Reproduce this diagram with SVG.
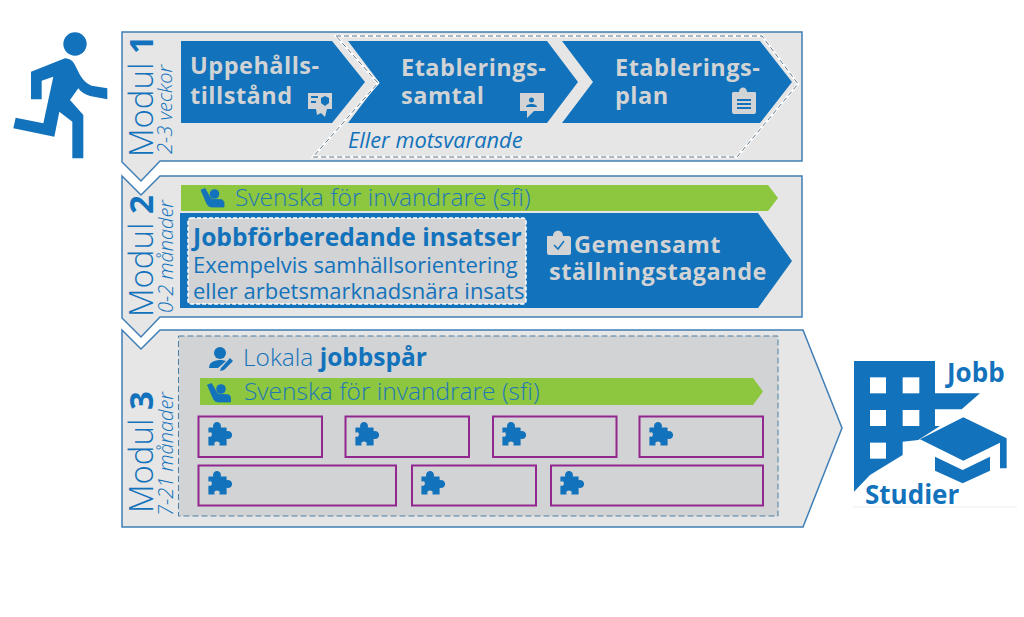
<svg xmlns="http://www.w3.org/2000/svg" width="1024" height="617" viewBox="0 0 1024 617">
<style>
text{font-family:"Open Sans","Noto Sans","Liberation Sans",sans-serif;fill:#1272BB}
.panel{fill:#E6E6E6;stroke:#3F7FB5;stroke-width:1.500}
.blue{fill:#1272BB}
.green{fill:#8DC63F}
.grey{fill:#D1D3D4}
.lt{fill:#D1D3D4;font-weight:700;font-size:23.500px;letter-spacing:.5px}
.mod{font-size:33px;font-weight:300}
.mod tspan{font-weight:700}
.sub{font-size:20px;font-style:italic;font-weight:300}
.sfi{font-size:24.500px;font-weight:300;fill:#1F78B8}
.p{fill:none;stroke:#92278F;stroke-width:2}
</style>
<defs>
<symbol id="puzzle" viewBox="0 0 24 24" overflow="visible"><path stroke="#1272BB" stroke-width="1.200" stroke-linejoin="round" d="M1 6H6C5 3 6.500 .5 9 .5C11.500 .5 13 3 12 6H18V10C21 9 23.500 10 23.500 13C23.500 16 21 17 18 16V23H12C13 20.500 11.500 19 9 19C6.500 19 5 20.500 6 23H1V15C3 16 4.500 14.500 4.500 12.500C4.500 10 3 9 1 10Z"/></symbol>
<symbol id="seat" viewBox="0 0 24 20" overflow="visible"><circle cx="14" cy="6" r="4.800"/><path stroke="#1272BB" stroke-width=".8" d="M.5 2L4.500 .5L10 10Q11.500 11.500 14 11.500H19Q23.500 11.500 23.500 15V19H11Q8 19 6.500 16Z"/></symbol>
</defs>

<g id="runner" class="blue" transform="translate(0 20) scale(.3333)">
<circle cx="225" cy="72" r="35"/>
<path d="M93 155L195 115Q215 115 225 135L240 165Q255 190 275 197L322 205V238L270 228Q245 220 235 205L210 240L250 285V415H217V305L178 275L163 350L40 325L47 293L130 310L160 170L125 182V238H93Z"/>
</g>

<g id="modul-1">
<path class="panel" d="M122 32H802V161H160L141 181L122 162Z"/>
<path class="blue" d="M181 41H332L365 82L332 123H181Z"/>
<path class="blue" d="M348 41H547L578 82L547 123H348L379 82Z"/>
<path class="blue" d="M562 41H760L792 82L760 123H562L593 82Z"/>
<path d="M336 36H762L798 84L737 157H313L378 83Z" fill="none" stroke="#fff" stroke-width="2.500"/>
<path d="M336 36H762L798 84L737 157H313L378 83Z" fill="none" stroke="#5D7385" stroke-width="1" stroke-dasharray="5 3"/>
<text class="mod" transform="translate(153 157) rotate(-90)">Modul <tspan>1</tspan></text>
<text class="sub" transform="translate(172 154) rotate(-90)">2-3 veckor</text>
<text class="lt" x="190" y="74">Uppehålls-</text>
<text class="lt" x="190" y="104">tillstånd</text>
<text class="lt" x="401" y="76">Etablerings-</text>
<text class="lt" x="401" y="104">samtal</text>
<text class="lt" x="615" y="76">Etablerings-</text>
<text class="lt" x="615" y="104">plan</text>
<text x="348" y="148" font-size="21.800" font-style="italic" fill="#1F6FAE">Eller motsvarande</text>
<g class="grey">
<path d="M308 93H332V109H327L325 117L321 113L317 115L316 109H308ZM311 96V98H318V96ZM311 101V103H316V101ZM325 96L321 98V103L325 106L329 103V98Z"/>
<path d="M520 93H544V111H534L527 118V111H520Z"/>
<path d="M733 92H739C739 86 747 86 747 92H755C756 92 756 93 756 94V112C756 113 755 114 754 114H734C733 114 732 113 732 112V93Z"/>
</g>
<g class="blue"><circle cx="531.500" cy="100" r="2.500"/><path d="M526 107C526 103 537 103 537 107Z"/>
<path d="M737 99H751V101H737ZM737 103H751V105H737ZM737 107H751V109H737Z"/></g>
</g>

<g id="modul-2">
<path class="panel" d="M122 176L141 195L160 176H802V317H160L141 337L122 318Z"/>
<path class="green" d="M181 185H768L778 198L768 211H181Z"/>
<path class="blue" d="M180 213H758L792 261L758 308H180Z"/>
<rect x="188" y="218" width="338" height="86" rx="3" fill="#D1D3D4" stroke="#fff" stroke-width="1.500" stroke-dasharray="4 2"/>
<text class="mod" transform="translate(153 317) rotate(-90)">Modul <tspan>2</tspan></text>
<text class="sub" transform="translate(173 313) rotate(-90)">0-2 månader</text>
<use href="#seat" x="200.500" y="188" width="24" height="20" class="blue"/>
<text class="sfi" x="235" y="206">Svenska för invandrare (sfi)</text>
<text x="193" y="246" font-size="24.600" font-weight="700">Jobbförberedande insatser</text>
<text x="193" y="273" font-size="22" fill="#2A7AB8">Exempelvis samhällsorientering</text>
<text x="193" y="299" font-size="22" fill="#2A7AB8">eller arbetsmarknadsnära insats</text>
<path class="grey" d="M547 236H553C553 229 563 229 563 236H569C570 236 571 237 571 238V253C571 254 570 255 569 255H549C548 255 547 254 547 253Z"/>
<path d="M554 245L558 249L564 241" fill="none" stroke="#1272BB" stroke-width="1.500"/>
<text class="lt" x="574" y="253">Gemensamt</text>
<text class="lt" x="549" y="280">ställningstagande</text>
</g>

<g id="modul-3">
<path class="panel" d="M122 330L141 349L160 330H803L842 428L803 527H122Z"/>
<rect x="178.500" y="336" width="599.500" height="180" fill="#D1D3D4" stroke="#4C7FA5" stroke-width="1" stroke-dasharray="6 3"/>
<path class="green" d="M200 378H753L763 391.500L753 405H200Z"/>
<text class="mod" transform="translate(153 513) rotate(-90)">Modul <tspan>3</tspan></text>
<text class="sub" transform="translate(173 516) rotate(-90)">7-21 månader</text>
<g class="blue"><circle cx="220" cy="353" r="6"/><path d="M209 368C209 361 216 360 222 360L226 361L218 368ZM221 368L230 358L233 361L224 370L220 371Z"/></g>
<text x="243" y="366" font-size="24.500" font-weight="300" fill="#1F78B8">Lokala <tspan font-weight="700" fill="#1272BB">jobbspår</tspan></text>
<use href="#seat" x="207" y="383" width="24" height="20" class="blue"/>
<text class="sfi" x="244" y="400">Svenska för invandrare (sfi)</text>
<rect class="p" x="198.500" y="416.500" width="123.500" height="40.500"/>
<rect class="p" x="345.500" y="416.500" width="123.500" height="40.500"/>
<rect class="p" x="493" y="416.500" width="123.500" height="40.500"/>
<rect class="p" x="639.500" y="416.500" width="123.500" height="40.500"/>
<rect class="p" x="198.500" y="465.500" width="197.500" height="40"/>
<rect class="p" x="412" y="465.500" width="124" height="40"/>
<rect class="p" x="551" y="465.500" width="212" height="40"/>
<g class="blue">
<use href="#puzzle" x="208" y="422" width="24" height="24"/>
<use href="#puzzle" x="355" y="422" width="24" height="24"/>
<use href="#puzzle" x="502" y="422" width="24" height="24"/>
<use href="#puzzle" x="649" y="422" width="24" height="24"/>
<use href="#puzzle" x="208" y="471" width="24" height="24"/>
<use href="#puzzle" x="421" y="471" width="24" height="24"/>
<use href="#puzzle" x="560" y="471" width="24" height="24"/>
</g>
</g>

<g id="jobb-studier">
<path d="M853 507H1017" stroke="#ECEDEE" stroke-width="1" fill="none"/>
<g transform="translate(840 350) scale(.3333)" class="blue">
<path d="M42 33H285V130H420L365 178H285V228H300L235 270L188 275V315L90 375L42 425Z"/>
<g fill="#fff"><rect x="90" y="82" width="48" height="48"/><rect x="188" y="82" width="50" height="48"/><rect x="90" y="180" width="48" height="48"/><rect x="188" y="180" width="50" height="48"/><rect x="90" y="278" width="48" height="48"/></g>
<path d="M240 268L370 202L500 265V355H480V278L370 332Z"/>
<path d="M285 320L368 360L450 320V362L368 400L285 362Z"/>
</g>
<text x="947" y="382" font-size="26" font-weight="700">Jobb</text>
<text x="865" y="504" font-size="26" font-weight="700">Studier</text>
</g>
</svg>
